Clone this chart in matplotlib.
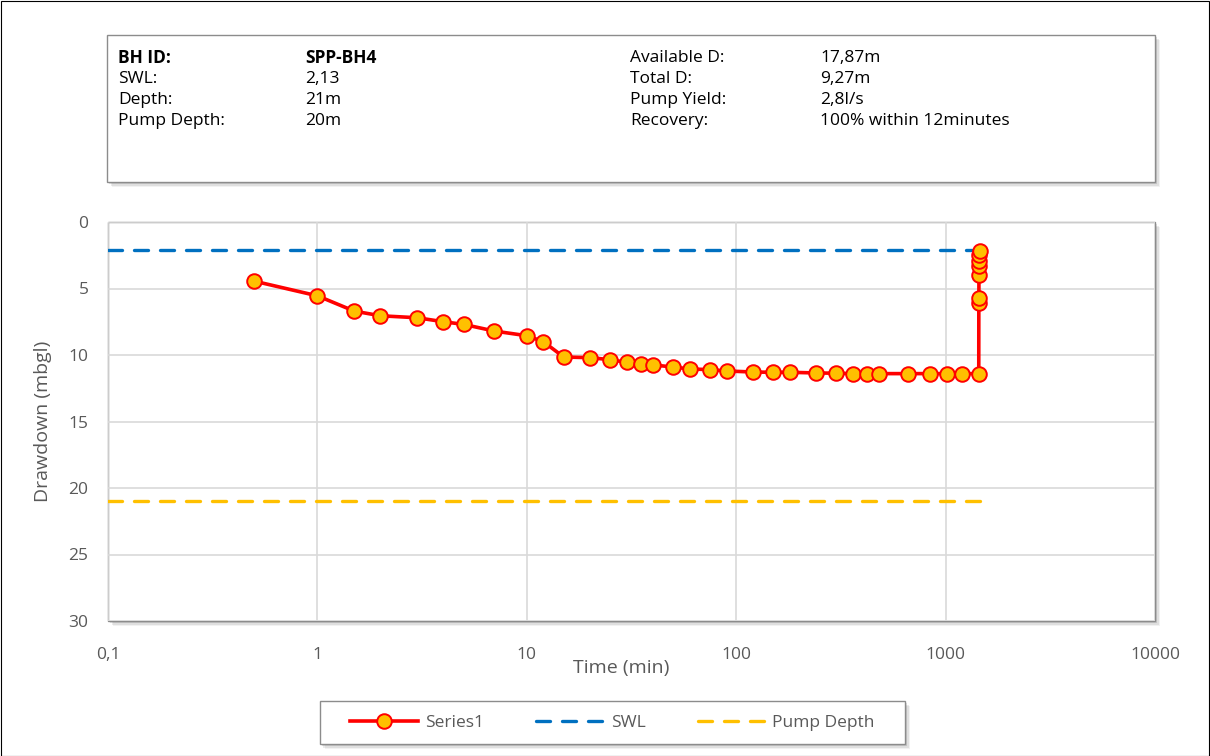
import matplotlib.pyplot as plt
from matplotlib.patches import Rectangle
from matplotlib.ticker import FixedLocator, FixedFormatter

plt.rcParams['font.family'] = ['Open Sans', 'DejaVu Sans']

# pumping test data (time in minutes, drawdown in mbgl)
time_min = [0.5, 1, 1.5, 2, 3, 4, 5, 7, 10, 12, 15, 20, 25, 30, 35, 40, 50, 60,
            75, 90, 120, 150, 180, 240, 300, 360, 420, 480, 660, 840, 1020, 1200,
            1440, 1441, 1442, 1443, 1445, 1447, 1450, 1452]
drawdown = [4.45, 5.55, 6.7, 7.05, 7.2, 7.5, 7.7, 8.2, 8.55, 9.0, 10.15, 10.2,
            10.35, 10.55, 10.7, 10.75, 10.9, 11.05, 11.1, 11.2, 11.28, 11.3, 11.3,
            11.35, 11.37, 11.4, 11.4, 11.4, 11.4, 11.4, 11.4, 11.4,
            11.4, 6.1, 5.7, 4.0, 3.3, 2.9, 2.5, 2.15]

swl_x = [0.1, 1452]
swl_y = [2.13, 2.13]
pump_x = [0.1, 1452]
pump_y = [21, 21]

xticks = [0.1, 1, 10, 100, 1000, 10000]
xtick_labels = ['0,1', '1', '10', '100', '1000', '10000']
yticks = [0, 5, 10, 15, 20, 25, 30]

info_left = [('BH ID:', 'SPP-BH4'), ('SWL:', '2,13'), ('Depth:', '21m'),
             ('Pump Depth:', '20m')]
info_right = [('Available D:', '17,87m'), ('Total D:', '9,27m'),
              ('Pump Yield:', '2,8l/s'), ('Recovery:', '100% within 12minutes')]

W, H = 1210, 756
fig = plt.figure(figsize=(12.1, 7.56), dpi=100)
txt = '#595959'

# outer border
fig.patches.append(Rectangle((0.5 / W, 0.5 / H), 1 - 1.5 / W, 1 - 1.5 / H,
                             transform=fig.transFigure, fill=False,
                             edgecolor='black', lw=0.8))


def shadow_box(x0, y0, x1, y1, z=-5):
    # pixel coords, y from top
    for i, a in enumerate([0.12, 0.08, 0.05]):
        d = 2 + i * 1.5
        fig.patches.append(Rectangle(((x0 + d) / W, 1 - (y1 + d) / H),
                                     (x1 - x0) / W, (y1 - y0) / H,
                                     transform=fig.transFigure, facecolor='black',
                                     edgecolor='none', alpha=a, zorder=z))
    fig.patches.append(Rectangle((x0 / W, 1 - y1 / H), (x1 - x0) / W, (y1 - y0) / H,
                                 transform=fig.transFigure, facecolor='white',
                                 edgecolor='#8c8c8c', lw=1.0, zorder=z + 0.1))


# info box
shadow_box(107, 35, 1155, 182)
for i, (k, v) in enumerate(info_left):
    w = 'bold' if i == 0 else 'normal'
    y = 1 - (58 + i * 21) / H
    fig.text(118 / W, y, k, fontsize=12.5, fontweight=w, va='center', color='black', zorder=5)
    fig.text(305 / W, y, v, fontsize=12.5, fontweight=w, va='center', color='black', zorder=5)
for i, (k, v) in enumerate(info_right):
    y = 1 - (58 + i * 21) / H
    fig.text(630 / W, y, k, fontsize=12.5, va='center', color='black', zorder=5)
    fig.text(820 / W, y, v, fontsize=12.5, va='center', color='black', zorder=5)

# plot area
shadow_box(108, 222, 1155, 621)
ax = fig.add_axes([108 / W, 1 - 621 / H, (1155 - 108) / W, (621 - 222) / H])
ax.set_facecolor('none')
ax.set_xscale('log')
ax.set_xlim(0.1, 10000)
ax.set_ylim(30, 0)
ax.xaxis.set_major_locator(FixedLocator(xticks))
ax.xaxis.set_major_formatter(FixedFormatter(xtick_labels))
ax.xaxis.set_minor_locator(FixedLocator([]))
ax.set_yticks(yticks)
ax.grid(True, color='#d9d9d9', lw=1.2)
ax.set_axisbelow(True)
for s in ax.spines.values():
    s.set_visible(False)
ax.tick_params(length=0, labelsize=12.5, colors=txt)
ax.tick_params(axis='x', pad=19)
ax.tick_params(axis='y', pad=14)

dash = (0, (4.2, 3.6))
ax.plot(swl_x, swl_y, color='#0070C0', lw=2.4, ls=dash, dash_capstyle='round',
        label='SWL')
ax.plot(pump_x, pump_y, color='#FFC000', lw=2.4, ls=dash, dash_capstyle='round',
        label='Pump Depth')
ax.plot(time_min, drawdown, color='#FF0000', lw=2.6, marker='o', markersize=10.5,
        markerfacecolor='#FFC000', markeredgecolor='#FF0000', markeredgewidth=1.4,
        label='Series1', zorder=4)

ax.set_xlabel('Time (min)', fontsize=14, color=txt, labelpad=-3)
ax.xaxis.set_label_coords(0.49, -0.095)
ax.set_ylabel('Drawdown (mbgl)', fontsize=14, color=txt, labelpad=12)

h, l = ax.get_legend_handles_labels()
order = [2, 0, 1]
shadow_box(320, 701, 905, 744)
leg = fig.legend([h[i] for i in order], [l[i] for i in order], loc='center',
                 bbox_to_anchor=(612.5 / W, 1 - 722.5 / H), ncol=3, frameon=False,
                 fontsize=12.5, handlelength=3.9, columnspacing=3.0, handletextpad=0.4)
for t in leg.get_texts():
    t.set_color(txt)
leg.set_zorder(6)

fig.savefig('out.png', dpi=100)
